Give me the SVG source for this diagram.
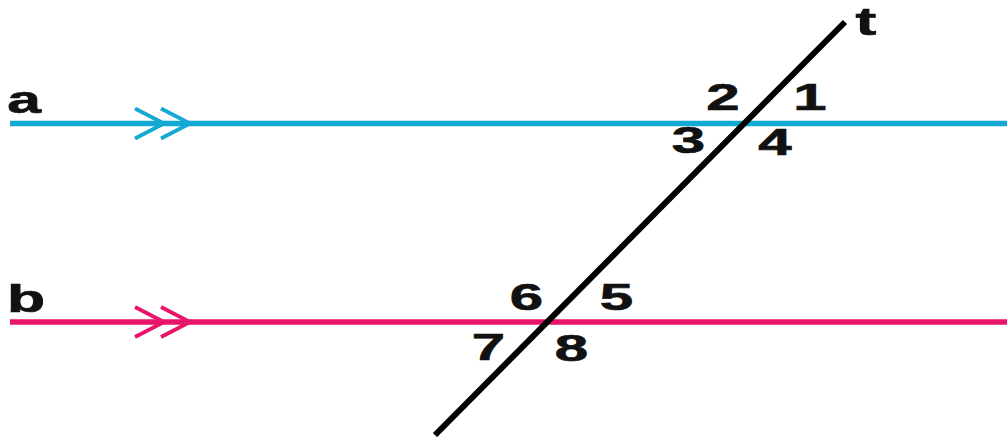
<svg xmlns="http://www.w3.org/2000/svg" xmlns:xlink="http://www.w3.org/1999/xlink" width="1007" height="437" viewBox="0 0 1007 437">
  <style>
    .lbl { font-family: "Liberation Sans", Arial, sans-serif; font-weight: bold; fill: #111; stroke: #111; stroke-width: 0.7; text-anchor: middle; }
    .num { font-size: 37px; }
    .let { font-size: 39px; }
    .cyan { stroke: #14a9d2; }
    .pink { stroke: #e8156b; }
    .ln { stroke-width: 5.5; fill: none; }
    .chev { stroke-width: 3.8; fill: none; stroke-linecap: butt; stroke-linejoin: miter; }
  </style>
  <defs>
    <path id="dbl" d="M135,-15 L164,0 L135,15 M161,-15 L190,0 L161,15"/>
  </defs>
  <rect width="1007" height="437" fill="#ffffff"/>
  <g id="connectors">
    <g id="line-a">
      <line class="ln cyan" x1="10" y1="123.5" x2="1007" y2="123.5"/>
      <use xlink:href="#dbl" href="#dbl" class="chev cyan" transform="translate(0,123.5)"/>
    </g>
    <g id="line-b">
      <line class="ln pink" x1="10" y1="322" x2="1007" y2="322"/>
      <use xlink:href="#dbl" href="#dbl" class="chev pink" transform="translate(0,322)"/>
    </g>
    <g id="line-t">
      <line x1="435" y1="435" x2="845" y2="22" stroke="#000" stroke-width="6"/>
    </g>
  </g>
  <g id="labels">
    <g id="label-a"><text class="lbl let" transform="translate(24,113) scale(1.55,1)">a</text></g>
    <g id="label-b"><text class="lbl let" transform="translate(26,312) scale(1.6,1)">b</text></g>
    <g id="label-t"><text class="lbl let" transform="translate(866,35) scale(1.6,1)">t</text></g>
    <g id="angle-1"><text class="lbl num" transform="translate(810,110) scale(1.62,1)">1</text></g>
    <g id="angle-2"><text class="lbl num" transform="translate(723,110) scale(1.62,1)">2</text></g>
    <g id="angle-3"><text class="lbl num" transform="translate(688.5,153) scale(1.62,1)">3</text></g>
    <g id="angle-4"><text class="lbl num" transform="translate(775,155) scale(1.62,1)">4</text></g>
    <g id="angle-5"><text class="lbl num" transform="translate(616.5,310) scale(1.62,1)">5</text></g>
    <g id="angle-6"><text class="lbl num" transform="translate(526.5,310) scale(1.62,1)">6</text></g>
    <g id="angle-7"><text class="lbl num" transform="translate(488.5,360) scale(1.62,1)">7</text></g>
    <g id="angle-8"><text class="lbl num" transform="translate(571.5,361) scale(1.62,1)">8</text></g>
  </g>
</svg>
